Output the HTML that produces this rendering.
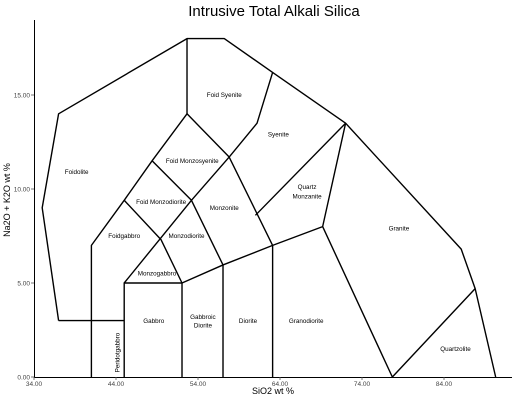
<!DOCTYPE html>
<html><head><meta charset="utf-8"><style>
body{margin:0;background:#fff;}
svg{display:block;font-family:"Liberation Sans","DejaVu Sans",sans-serif;}
</style></head><body>
<svg id="c" width="517" height="400" viewBox="0 0 517 400">
<text x="274" y="16" font-size="15" text-anchor="middle" fill="#000">Intrusive Total Alkali Silica</text>
<text x="273" y="394" font-size="9" text-anchor="middle">SiO2 wt %</text>
<text x="10" y="200" font-size="9" text-anchor="middle" transform="rotate(-90 10 200)">Na2O + K2O wt %</text>
<g id="lines" fill="none" stroke="#000" stroke-width="1.4" stroke-linejoin="round"></g>
<g id="labels" font-size="6.3" text-anchor="middle" fill="#000"></g>
<g id="axes"></g>
</svg>
<script>
const xTicks=[34,44,54,64,74,84];
const yTicks=[0,5,10,15];
const outline=[[37,3],[35,9],[37,14],[52.66,18],[57.2,18],[63.1,16.2],[72,13.5],[86.1,6.8],[87.8,4.7],[90.3,0]];
const segments=[
[[37,3],[45,3]],
[[41,0],[41,7],[45,9.4],[48.4,11.5],[52.66,14],[57.8,11.7],[63.1,7]],
[[52.66,18],[52.66,14]],
[[48.4,11.5],[53.2,9.4],[57.8,11.7],[61.2,13.5],[63.1,16.2]],
[[45,9.4],[49.5,7.3],[52.05,5]],
[[45,0],[45,5],[52.05,5],[52.05,0]],
[[45,5],[53.2,9.4],[57.05,5.96],[57.05,0]],
[[52.05,5],[57.05,5.96],[63.1,7],[69.2,8],[72,13.5]],
[[61,8.6],[72,13.5]],
[[63.1,0],[63.1,7]],
[[69.2,8],[77.7,0],[87.8,4.7]]
];
const labelNames=["Foid Syenite","Syenite","Foidolite","Foid Monzosyenite","Quartz","Monzanite","Foid Monzodiorite","Monzonite","Granite","Foidgabbro","Monzodiorite","Monzogabbro","Gabbro","Gabbroic","Diorite","Diorite","Granodiorite","Quartzolite"];
const labelX=[57.2,63.8,39.2,53.3,67.3,67.3,49.5,57.2,78.5,45,52.6,49,48.6,54.6,54.6,60.1,67.2,85.4];
const labelY=[15,12.9,10.9,11.5,10.1,9.6,9.3,9,7.9,7.5,7.5,5.5,2.98,3.2,2.75,2.98,2.98,1.5];
const X=v=>34+(v-34)*8.2, Y=v=>377-v*18.8;
const NS="http://www.w3.org/2000/svg";
const lg=document.getElementById('lines');
function poly(pts,name){const p=document.createElementNS(NS,'polyline');
p.setAttribute('points',pts.map(q=>X(q[0])+','+Y(q[1])).join(' '));


lg.appendChild(p);}
poly(outline,'field-outline');
segments.forEach((s,i)=>poly(s,'field-boundary-'+i));
const lb=document.getElementById('labels');
labelNames.forEach((n,i)=>{const t=document.createElementNS(NS,'text');
t.setAttribute('x',X(labelX[i]));t.setAttribute('y',Y(labelY[i])+2);t.textContent=n;


lb.appendChild(t);});
const pt=document.createElementNS(NS,'text');
pt.setAttribute('x',0);pt.setAttribute('y',0);pt.setAttribute('font-size','6.3');pt.setAttribute('text-anchor','middle');
pt.setAttribute('transform','translate('+(X(44.2)+2)+','+Y(1.3)+') rotate(-90)');pt.textContent='Peridotgabbro';


lb.appendChild(pt);
const ax=document.getElementById('axes');
function line(x1,y1,x2,y2,name,c,w){const l=document.createElementNS(NS,'line');
l.setAttribute('x1',x1);l.setAttribute('y1',y1);l.setAttribute('x2',x2);l.setAttribute('y2',y2);
l.setAttribute('stroke',c);l.setAttribute('stroke-width',w);


ax.appendChild(l);}
line(34.5,20,34.5,377,'y-axis-line','#000',1);
line(34,377.5,512,377.5,'x-axis-line','#000',1);
xTicks.forEach(v=>{line(X(v),377,X(v),380,'x-tick','#555',0.8);
const t=document.createElementNS(NS,'text');t.setAttribute('x',X(v));t.setAttribute('y',386);
t.setAttribute('font-size','6.5');t.setAttribute('text-anchor','middle');t.setAttribute('fill','#444');t.textContent=v.toFixed(2);


ax.appendChild(t);});
yTicks.forEach(v=>{line(31,Y(v),34,Y(v),'y-tick','#555',0.8);
const t=document.createElementNS(NS,'text');t.setAttribute('x',30);t.setAttribute('y',Y(v)+2.3);
t.setAttribute('font-size','6.5');t.setAttribute('text-anchor','end');t.setAttribute('fill','#444');t.textContent=v.toFixed(2);


ax.appendChild(t);});
</script>
</body></html>
